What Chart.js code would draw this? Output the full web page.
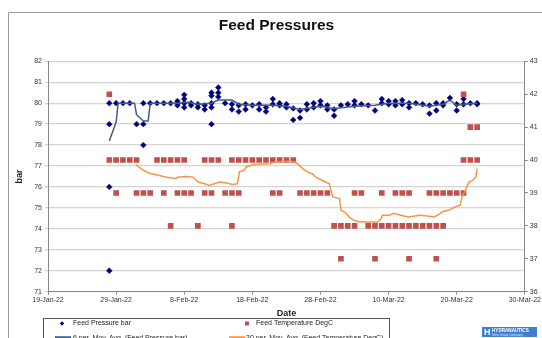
<!DOCTYPE html>
<html>
<head>
<meta charset="utf-8">
<script src="https://cdn.jsdelivr.net/npm/chart.js@4.4.1/dist/chart.umd.min.js"></script>
<style>
  html, body { margin: 0; padding: 0; background: #fff; }
</style>
</head>
<body>
<canvas id="feedChart" width="542" height="338"></canvas>
<script>
// days counted from 19-Jan-22
const xTickLabels = ['19-Jan-22', '29-Jan-22', '8-Feb-22', '18-Feb-22', '28-Feb-22', '10-Mar-22', '20-Mar-22', '30-Mar-22'];
const firstDay = 9; // 28-Jan-22

// readings per day, from firstDay on
const pressureReadings = [
  [80, 79, 76, 72], [80], [80], [80], [79], [80, 79, 78], [80], [80], [80], [80],
  [80.1, 80, 79.9], [80.4, 80.2, 80, 79.8], [80, 79.9], [79.95, 79.8], [79.9, 79.7],
  [80.5, 80.35, 80, 79.8, 79], [80.75, 80.5, 80.3], [80], [79.95, 79.7], [79.9, 79.6],
  [79.95, 79.7], [79.9], [79.95, 79.7], [79.8, 79.6], [80.2, 79.95], [80, 79.9],
  [79.95, 79.8], [79.75, 79.2], [79.65, 79.3], [79.95, 79.7], [80, 79.8], [80.1, 79.9],
  [79.9, 79.7], [79.7, 79.4], [79.9], [79.95], [80.1, 79.9], [79.95], [79.9], [79.65],
  [80.2, 80], [80.1, 79.95], [80.1, 79.9], [80.15, 79.95], [80, 79.8], [80], [79.95],
  [79.9, 79.5], [80, 79.65], [80, 79.9], [80.25], [79.95, 79.65], [80.2, 79.95], [80], [80, 79.95]
];
const temperatureReadings = [
  [42, 40], [40, 39], [40], [40], [40, 39], [39], [39], [40], [40, 39], [40, 38],
  [40, 39], [40, 39], [39], [38], [40, 39], [40, 39], [40], [39], [40, 39, 38], [40, 39],
  [40], [40], [40], [40], [40, 39], [40, 39], [40], [40], [39], [39],
  [39], [39], [39], [38], [38, 37], [38], [38, 39], [39], [38], [38, 37],
  [38, 39], [38], [38, 39], [38, 39], [38, 39, 37], [38], [38], [38, 39], [38, 39, 37], [38, 39],
  [39], [39], [39, 42, 40], [41, 40], [41, 40]
];

// moving average lines as drawn
const pressureAvgDays = [9, 10, 10.3, 12.7, 13, 14, 14.7, 15, 19, 20.5, 22, 24, 25, 27, 28, 30, 33, 35, 37, 40, 42, 45, 48, 50, 53, 56, 58, 59, 60, 61, 63];
const pressureAvg = [78.2, 79.1, 80, 80, 79.45, 79.15, 79.15, 80, 80, 80.05, 79.95, 80, 80.15, 80.15, 79.95, 79.9, 79.9, 79.85, 79.7, 79.85, 79.75, 79.85, 79.9, 80, 80, 79.85, 79.95, 80.15, 79.9, 79.95, 80];
const tempAvgDays = [12.9, 14, 14.9, 16.2, 17.4, 18.8, 19, 20.3, 21.3, 22, 23, 23.7, 24.4, 25.2, 26.2, 27.1, 27.8, 28.1, 28.8, 29.1, 29.8, 30.3, 32.7, 33.2, 35.4, 36.2, 36.6, 37.4, 38.1, 38.9, 39.3, 40.3, 41.3, 41.8, 42.8, 43, 43.8, 44.2, 44.9, 45.7, 48.4, 48.9, 49.1, 50.1, 50.8, 51.8, 52.8, 54.7, 55.7, 56.7, 57.4, 57.9, 58.9, 59.8, 60.5, 60.8, 61.8, 62.3, 62.8, 63];
const tempAvg = [39.86, 39.69, 39.6, 39.54, 39.48, 39.44, 39.48, 39.5, 39.48, 39.33, 39.28, 39.23, 39.28, 39.33, 39.3, 39.26, 39.28, 39.64, 39.69, 39.79, 39.84, 39.87, 39.89, 39.94, 39.96, 39.94, 39.89, 39.74, 39.64, 39.57, 39.48, 39.38, 39.28, 38.88, 38.83, 38.48, 38.38, 38.27, 38.17, 38.12, 38.12, 38.22, 38.32, 38.32, 38.38, 38.32, 38.27, 38.32, 38.3, 38.27, 38.35, 38.43, 38.48, 38.58, 38.63, 38.88, 39.33, 39.38, 39.48, 39.74];

const FONT = '"Liberation Sans", Arial, sans-serif';
Chart.defaults.font.family = FONT;
Chart.defaults.color = '#333';

const toPoints = readings => readings.flatMap((vals, i) => vals.map(v => ({ x: firstDay + i, y: v })));
const pairUp = (xs, ys) => xs.map((x, i) => ({ x, y: ys[i] }));

// frame, legend box and logo the way the spreadsheet drew them
const sheetExtras = {
  id: 'sheetExtras',
  beforeDraw(chart) {
    const ctx = chart.ctx;
    ctx.save();
    ctx.strokeStyle = '#9a9a9a';
    ctx.lineWidth = 1;
    ctx.beginPath();
    ctx.moveTo(8.5, 338);
    ctx.lineTo(8.5, 12.5);
    ctx.lineTo(542, 12.5);
    ctx.stroke();
    ctx.restore();
  },
  afterDraw(chart) {
    const ctx = chart.ctx;
    const ds = chart.data.datasets;
    ctx.save();
    ctx.fillStyle = '#fff';
    ctx.fillRect(43.5, 318.5, 346, 30);
    ctx.strokeStyle = '#555';
    ctx.lineWidth = 1;
    ctx.strokeRect(43.5, 318.5, 346, 30);
    ctx.font = '7px ' + FONT;
    ctx.textBaseline = 'middle';
    const slots = [[0, 62, 323.5, 73], [1, 247, 323.5, 256], [2, 63, 338.5, 73], [3, 237, 338.5, 246]];
    slots.forEach(([i, mx, my, tx]) => {
      const d = ds[i];
      if (d.showLine === false) {
        ctx.fillStyle = d.backgroundColor;
        if (d.pointStyle === 'rectRot') {
          ctx.beginPath();
          ctx.moveTo(mx - 2.2, my); ctx.lineTo(mx, my - 2.2);
          ctx.lineTo(mx + 2.2, my); ctx.lineTo(mx, my + 2.2);
          ctx.closePath(); ctx.fill();
        } else {
          ctx.fillRect(mx - 2, my - 2, 4, 4);
        }
      } else {
        ctx.strokeStyle = d.borderColor;
        ctx.lineWidth = 2.5;
        ctx.beginPath();
        ctx.moveTo(mx - 8, my - 1); ctx.lineTo(mx + 8, my - 1);
        ctx.stroke();
      }
      ctx.fillStyle = '#222';
      ctx.fillText(d.label, tx, my);
    });
    // logo
    ctx.fillStyle = '#3f7fd0';
    ctx.fillRect(482, 327, 55, 10);
    ctx.fillStyle = '#fff';
    ctx.font = 'bold 9px ' + FONT;
    ctx.fillText('H', 484, 332.5);
    ctx.font = 'bold 4.6px ' + FONT;
    ctx.fillText('HYDRANAUTICS', 492, 330.5);
    ctx.fillStyle = '#d8e6ff';
    ctx.font = '3.2px ' + FONT;
    ctx.fillText('Nitto Group Company', 492, 334.8);
    ctx.restore();
  }
};

new Chart(document.getElementById('feedChart'), {
  type: 'line',
  data: {
    datasets: [
      {
        label: 'Feed Pressure bar',
        data: toPoints(pressureReadings),
        yAxisID: 'y',
        showLine: false,
        pointStyle: 'rectRot',
        pointRadius: 2.9,
        pointBorderWidth: 0.5,
        backgroundColor: '#000080',
        borderColor: '#000080',
        order: 3
      },
      {
        label: 'Feed Temperature DegC',
        data: toPoints(temperatureReadings),
        yAxisID: 'y1',
        showLine: false,
        pointStyle: 'rect',
        pointRadius: 4,
        pointBorderWidth: 0,
        backgroundColor: '#c0504d',
        borderColor: '#c0504d',
        order: 2
      },
      {
        label: '6 per. Mov. Avg. (Feed Pressure bar)',
        data: pairUp(pressureAvgDays, pressureAvg),
        yAxisID: 'y',
        borderColor: '#3f5f82',
        borderWidth: 1.5,
        pointRadius: 0,
        tension: 0,
        order: 1
      },
      {
        label: '30 per. Mov. Avg. (Feed Temperature DegC)',
        data: pairUp(tempAvgDays, tempAvg),
        yAxisID: 'y1',
        borderColor: '#f79646',
        borderWidth: 1.5,
        pointRadius: 0,
        tension: 0,
        order: 0
      }
    ]
  },
  options: {
    responsive: false,
    animation: false,
    layout: { padding: { left: 11, right: 0, top: 0, bottom: 0 } },
    plugins: {
      legend: { display: false },
      tooltip: { enabled: false },
      title: {
        display: true,
        text: 'Feed Pressures',
        color: '#111',
        font: { size: 15.5, weight: 'bold' },
        padding: { top: 16, bottom: 26.7 }
      }
    },
    scales: {
      x: {
        type: 'linear',
        min: 0,
        max: 70,
        afterFit: s => { s.height = 46.3; },
        ticks: { stepSize: 10, autoSkip: false, maxRotation: 0, padding: 1, font: { size: 7 }, callback: v => xTickLabels[v / 10] },
        grid: { drawOnChartArea: false, tickLength: 3, color: '#888' },
        border: { color: '#888' },
        title: { display: true, text: 'Date', color: '#222', font: { size: 9, weight: 'bold' }, padding: { top: 0, bottom: 18.6 } }
      },
      y: {
        position: 'left',
        min: 71,
        max: 82,
        afterFit: s => { s.width = 37; },
        ticks: { stepSize: 1, padding: 3, font: { size: 7 } },
        grid: { color: '#d4d4d4', lineWidth: 1.3, tickLength: 3 },
        border: { color: '#888' },
        title: { display: true, text: 'bar', color: '#222', font: { size: 9, weight: 'bold' }, padding: { top: 3.6, bottom: 0 } }
      },
      y1: {
        position: 'right',
        min: 36,
        max: 43,
        afterFit: s => { s.width = 16.5; },
        ticks: { stepSize: 1, padding: 2, font: { size: 7 } },
        grid: { drawOnChartArea: false, tickLength: 3, color: '#888' },
        border: { color: '#888' }
      }
    }
  },
  plugins: [sheetExtras]
});
</script>
</body>
</html>
